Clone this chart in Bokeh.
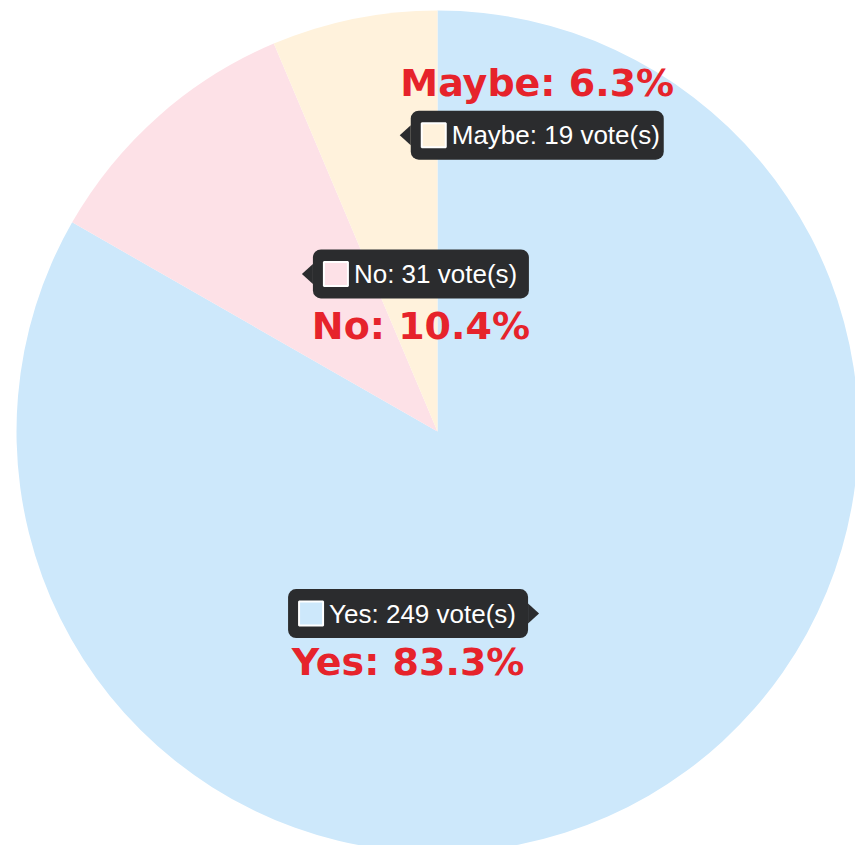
import numpy as np
from bokeh.plotting import figure
from bokeh.models import Range1d, ColumnDataSource
from bokeh.core.properties import value
from bokeh.embed import file_html
from bokeh.resources import INLINE

# ---- data ----
categories = ["Yes", "No", "Maybe"]
votes = [249, 31, 19]
pct_labels = ["83.3%", "10.4%", "6.3%"]
colors = ["#cde8fb", "#fde1e7", "#fff2dc"]

# ---- layout / style ----
W, H = 855, 845
CX, CY = 437, H - 431
R = 421
box_w = [240, 216, 253]        # tooltip box widths
tip_dy = [0, 0, 90]            # vertical shift of the tooltip anchor
label_side = [-1, -1, 1]       # -1 label below tooltip, 1 above
label_gap = [24, 28, 28]
BOX_H = 49
CARET_W, CARET_H = 11, 10
SQ = 24

total = sum(votes)
frac = np.array(votes) / total
cum = np.concatenate([[0.0], np.cumsum(frac)])
start = np.pi / 2 - 2 * np.pi * cum[:-1]
end = np.pi / 2 - 2 * np.pi * cum[1:]
mid = (start + end) / 2

p = figure(width=W, height=H, x_range=Range1d(0, W), y_range=Range1d(0, H),
           output_backend="svg", toolbar_location=None,
           x_axis_type=None, y_axis_type=None, min_border=0)
p.outline_line_color = None
p.grid.visible = False
p.background_fill_color = "white"
p.border_fill_color = "white"

src = ColumnDataSource(dict(x=[CX] * 3, y=[CY] * 3, start=start, end=end, color=colors))
p.wedge(x="x", y="y", radius=R, start_angle="start", end_angle="end",
        direction="clock", fill_color="color", line_color=None, source=src)

# tooltip geometry
ax = CX + 0.5 * R * np.cos(mid)
ay = CY + 0.5 * R * np.sin(mid) + np.array(tip_dy)
side = np.where(ax < CX, 1, -1)      # +1: box to the right of anchor
tip_x = ax + side * 4
near = tip_x + side * CARET_W
far = near + side * np.array(box_w)
left = np.minimum(near, far)
right = np.maximum(near, far)
top = ay + BOX_H / 2
bottom = ay - BOX_H / 2

box_color = "#2b2c2e"
p.quad(left=left, right=right, top=top, bottom=bottom, fill_color=box_color,
       line_color=None, border_radius=8)
xs = [[tx, n, n] for tx, n in zip(tip_x, near)]
ys = [[y, y + CARET_H, y - CARET_H] for y in ay]
p.patches(xs=xs, ys=ys, fill_color=box_color, line_color=None)

sq_x = left + 11 + SQ / 2
p.rect(x=sq_x, y=ay, width=SQ, height=SQ, fill_color=colors,
       line_color="white", line_width=2)

tip_text = [f"{c}: {v} vote(s)" for c, v in zip(categories, votes)]
p.text(x=left + 11 + SQ + 6, y=ay, text=tip_text, text_color="white",
       text_font=value("Liberation Sans"), text_font_size="26px",
       text_align="left", text_baseline="middle")

lab_text = [f"{c}: {pct}" for c, pct in zip(categories, pct_labels)]
lab_x = (left + right) / 2
lab_y = np.where(np.array(label_side) < 0, bottom - np.array(label_gap), top + np.array(label_gap))
p.text(x=lab_x, y=lab_y, text=lab_text, text_color="#e6232b",
       text_font=value("DejaVu Sans"), text_font_style="bold", text_font_size="38px",
       text_align="center", text_baseline="middle")

open("out.html", "w").write(file_html(p, INLINE))
